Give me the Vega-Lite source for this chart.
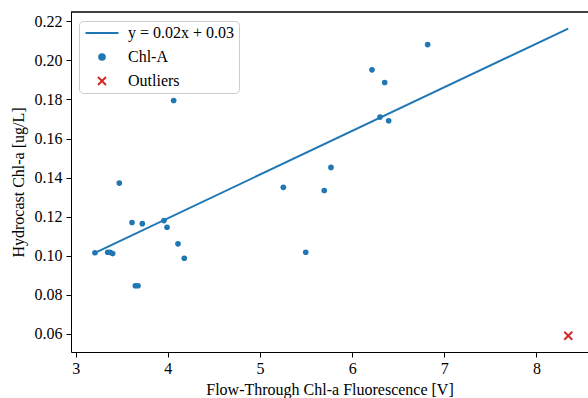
{
  "$schema": "https://vega.github.io/schema/vega-lite/v6.json",
  "width": 517,
  "height": 340,
  "autosize": "none",
  "padding": {"left": 71, "top": 12, "right": 0, "bottom": 46},
  "background": "white",
  "config": {
    "font": "Liberation Serif",
    "view": {"stroke": null},
    "axis": {
      "grid": false,
      "domainColor": "black",
      "domainWidth": 1,
      "tickColor": "black",
      "tickWidth": 1,
      "tickSize": 5,
      "labelColor": "black",
      "titleColor": "black",
      "labelFont": "Liberation Serif",
      "titleFont": "Liberation Serif",
      "labelFontSize": 16,
      "titleFontSize": 16,
      "titleFontWeight": "normal",
      "labelPadding": 4
    },
    "legend": {
      "orient": "none",
      "legendX": 8,
      "legendY": 9,
      "padding": 4,
      "fillColor": "rgba(255,255,255,0.8)",
      "strokeColor": "#cccccc",
      "cornerRadius": 4,
      "labelFont": "Liberation Serif",
      "labelFontSize": 16,
      "labelColor": "black",
      "labelOffset": 18,
      "symbolOffset": 11,
      "rowPadding": 8,
      "symbolSize": 100,
      "labelLimit": 400
    }
  },
  "datasets": {
    "fit": [
      {"x": 3.209, "y": 0.1015, "series": "y = 0.02x + 0.03"},
      {"x": 8.345, "y": 0.2163, "series": "y = 0.02x + 0.03"}
    ],
    "chl": [
      {"x": 3.209, "y": 0.1015, "series": "Chl-A"},
      {"x": 3.347, "y": 0.1018, "series": "Chl-A"},
      {"x": 3.372, "y": 0.1017, "series": "Chl-A"},
      {"x": 3.401, "y": 0.1011, "series": "Chl-A"},
      {"x": 3.473, "y": 0.1372, "series": "Chl-A"},
      {"x": 3.611, "y": 0.1170, "series": "Chl-A"},
      {"x": 3.647, "y": 0.0846, "series": "Chl-A"},
      {"x": 3.676, "y": 0.0846, "series": "Chl-A"},
      {"x": 3.723, "y": 0.1164, "series": "Chl-A"},
      {"x": 3.958, "y": 0.1180, "series": "Chl-A"},
      {"x": 3.991, "y": 0.1146, "series": "Chl-A"},
      {"x": 4.063, "y": 0.1795, "series": "Chl-A"},
      {"x": 4.110, "y": 0.1061, "series": "Chl-A"},
      {"x": 4.178, "y": 0.0987, "series": "Chl-A"},
      {"x": 5.253, "y": 0.1350, "series": "Chl-A"},
      {"x": 5.496, "y": 0.1018, "series": "Chl-A"},
      {"x": 5.697, "y": 0.1334, "series": "Chl-A"},
      {"x": 5.770, "y": 0.1452, "series": "Chl-A"},
      {"x": 6.215, "y": 0.1952, "series": "Chl-A"},
      {"x": 6.302, "y": 0.1710, "series": "Chl-A"},
      {"x": 6.353, "y": 0.1887, "series": "Chl-A"},
      {"x": 6.396, "y": 0.1691, "series": "Chl-A"},
      {"x": 6.819, "y": 0.2081, "series": "Chl-A"}
    ],
    "out": [
      {"x": 8.345, "y": 0.0590, "series": "Outliers"}
    ]
  },
  "encoding": {
    "x": {
      "field": "x",
      "type": "quantitative",
      "scale": {"domain": [2.949, 8.559], "nice": false, "zero": false},
      "axis": {"title": "Flow-Through Chl-a Fluorescence [V]", "values": [3, 4, 5, 6, 7, 8], "format": "d", "labelPadding": 3, "titlePadding": 5}
    },
    "y": {
      "field": "y",
      "type": "quantitative",
      "scale": {"domain": [0.0507, 0.2248], "nice": false, "zero": false},
      "axis": {"title": "Hydrocast Chl-a [ug/L]", "values": [0.06, 0.08, 0.10, 0.12, 0.14, 0.16, 0.18, 0.20, 0.22], "format": ".2f", "titlePadding": 8}
    }
  },
  "layer": [
    {
      "data": {"name": "fit"},
      "mark": {"type": "rule", "color": "black", "strokeWidth": 1},
      "encoding": {"x": null, "y": {"datum": 0.2248}}
    },
    {
      "data": {"name": "fit"},
      "mark": {"type": "line", "strokeWidth": 2},
      "encoding": {
        "color": {
          "field": "series",
          "type": "nominal",
          "scale": {"domain": ["y = 0.02x + 0.03", "Chl-A", "Outliers"], "range": ["#1f77b4", "#1f77b4", "#d62728"]},
          "legend": {
            "title": null,
            "encode": {
              "symbols": {
                "update": {
                  "shape": {"signal": "datum.value === 'Chl-A' ? 'circle' : datum.value === 'Outliers' ? 'M-1,-1L1,1M1,-1L-1,1' : 'M-3.3,0L3.3,0'"},
                  "size": {"signal": "datum.value === 'Chl-A' ? 32 : datum.value === 'Outliers' ? 64 : 100"},
                  "fill": {"signal": "datum.value === 'Chl-A' ? '#1f77b4' : 'transparent'"},
                  "stroke": {"signal": "datum.value === 'Outliers' ? '#d62728' : datum.value === 'Chl-A' ? 'transparent' : '#1f77b4'"},
                  "strokeWidth": {"value": 2},
                  "opacity": {"value": 1},
                  "fillOpacity": {"value": 1},
                  "strokeOpacity": {"value": 1}
                }
              }
            }
          }
        }
      }
    },
    {
      "data": {"name": "chl"},
      "mark": {"type": "point", "filled": true, "shape": "circle", "size": 32, "opacity": 1},
      "encoding": {"color": {"field": "series", "type": "nominal"}}
    },
    {
      "data": {"name": "out"},
      "mark": {"type": "point", "filled": false, "shape": "M-1,-1L1,1M1,-1L-1,1", "size": 64, "strokeWidth": 2, "opacity": 1},
      "encoding": {"color": {"field": "series", "type": "nominal"}}
    }
  ]
}
